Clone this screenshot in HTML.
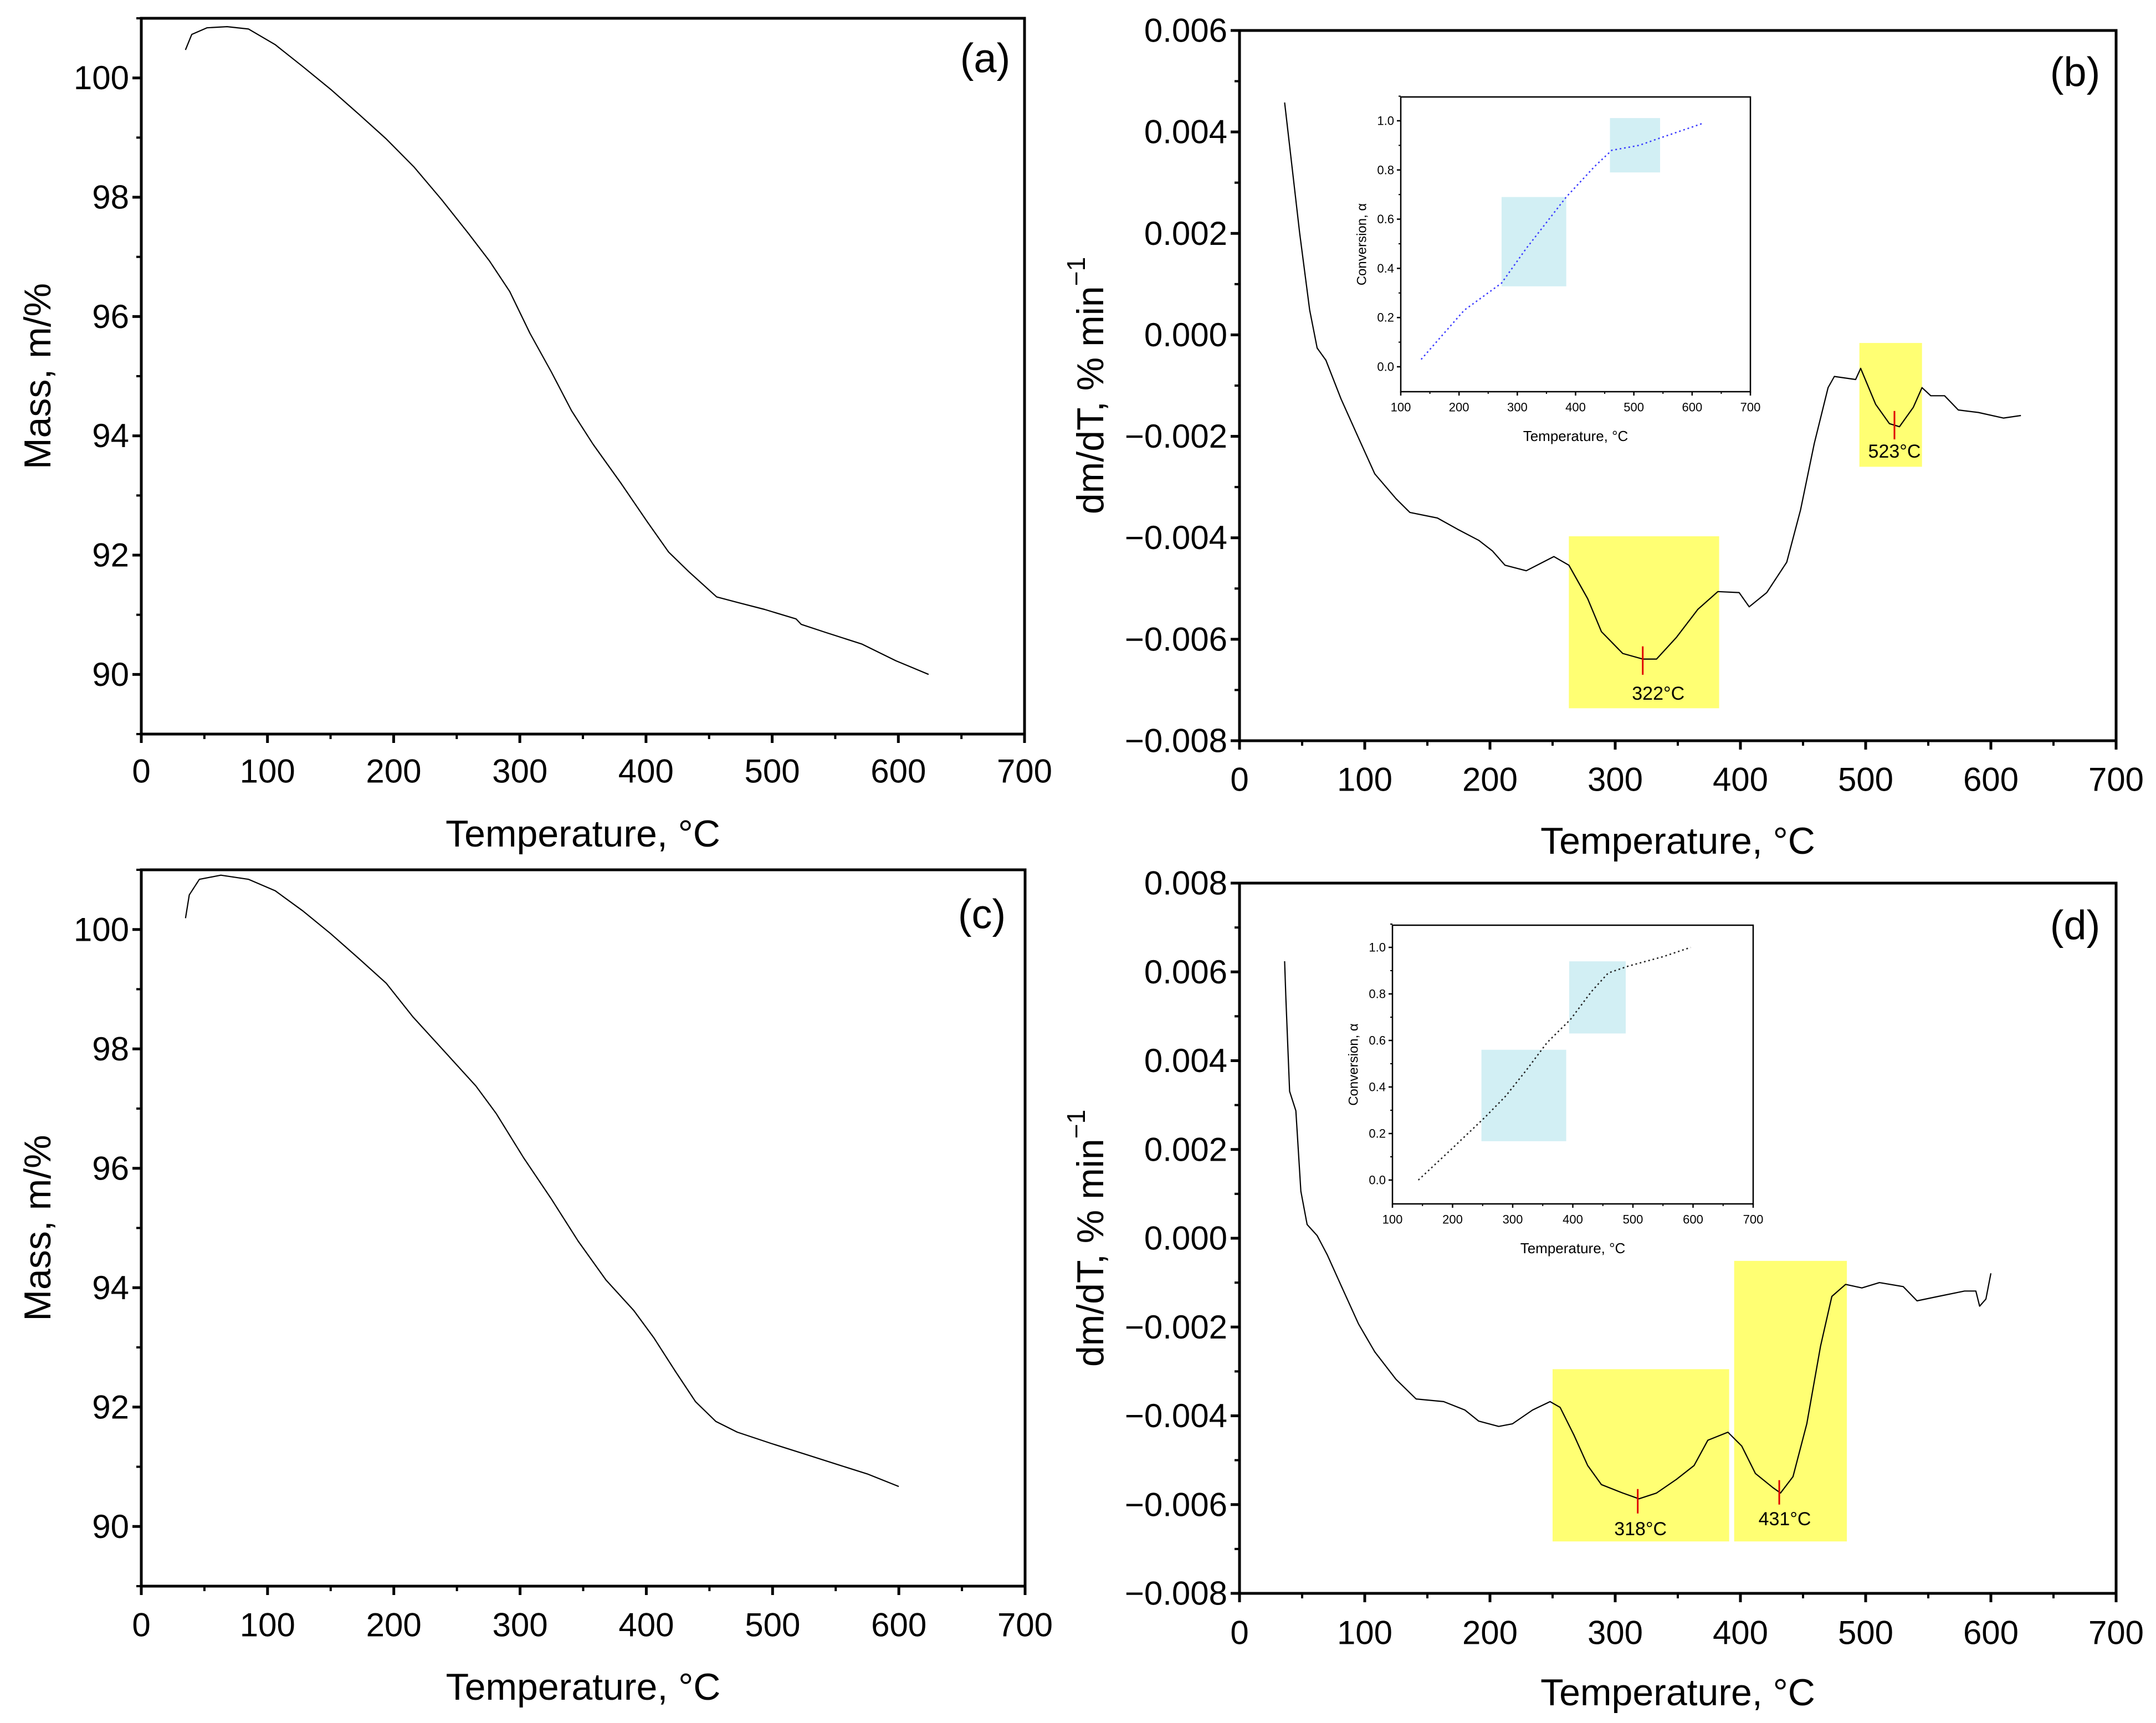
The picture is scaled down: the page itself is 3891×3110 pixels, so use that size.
<!DOCTYPE html>
<html><head><meta charset="utf-8"><style>
html,body{margin:0;padding:0;background:#fff;}
svg{display:block;font-family:"Liberation Sans",Arial,sans-serif;}
</style></head><body>
<svg id="fig" xmlns="http://www.w3.org/2000/svg" width="3891" height="3110" viewBox="0 0 3891 3110"></svg>
<script>
// ---------- DATA ----------
const tempA = [35,40,52,68,85,106,128,150,172,194,216,238,259,276,292,308,325,341,358,380,401,418,434,456,472,494,519,523,543,571,598,624];
const massA = [100.47,100.73,100.84,100.86,100.82,100.56,100.19,99.81,99.40,98.98,98.51,97.96,97.40,96.93,96.42,95.72,95.07,94.42,93.86,93.21,92.56,92.05,91.72,91.30,91.21,91.09,90.93,90.84,90.70,90.51,90.23,90.00];
const tempC = [35,38,46,63,85,106,128,150,172,194,215,237,265,281,303,325,346,368,390,406,423,439,455,472,499,526,554,575,600];
const massC = [100.19,100.58,100.84,100.91,100.84,100.65,100.31,99.93,99.52,99.10,98.54,98.03,97.38,96.92,96.17,95.48,94.78,94.13,93.62,93.16,92.60,92.09,91.76,91.58,91.39,91.21,91.02,90.88,90.67];
const tempB = [36,48,56,62,69,81,95,108,125,136,158,174,191,202,212,229,251,263,278,289,306,322,333,349,366,382,399,407,421,437,448,459,470,475,492,496,508,519,527,538,545,552,563,574,590,610,624];
const dtgB = [0.00458,0.00201,0.00049,-0.00026,-0.0005,-0.00126,-0.00203,-0.00274,-0.00323,-0.0035,-0.00361,-0.00383,-0.00405,-0.00426,-0.00454,-0.00465,-0.00437,-0.00454,-0.0052,-0.00585,-0.00628,-0.00639,-0.00639,-0.00596,-0.00541,-0.00506,-0.00508,-0.00536,-0.00508,-0.00448,-0.00345,-0.00214,-0.00104,-0.00082,-0.00088,-0.00066,-0.00137,-0.00175,-0.00181,-0.00143,-0.00104,-0.0012,-0.0012,-0.00148,-0.00153,-0.00164,-0.00159];
const tempD = [36,37,40,45,49,54,62,70,81,95,108,125,141,163,180,191,207,218,234,248,256,267,278,289,306,319,333,349,363,374,390,401,412,426,432,442,453,464,473,484,497,511,530,541,558,579,588,591,596,600];
const dtgD = [0.00624,0.00543,0.00331,0.00287,0.00106,0.00031,0.00006,-0.00037,-0.00106,-0.00193,-0.00256,-0.00318,-0.00362,-0.00368,-0.00387,-0.00412,-0.00424,-0.00418,-0.00387,-0.00368,-0.00381,-0.00443,-0.00512,-0.00555,-0.00574,-0.00587,-0.00574,-0.00543,-0.00512,-0.00455,-0.00437,-0.00468,-0.0053,-0.00562,-0.00574,-0.00537,-0.00418,-0.00243,-0.00131,-0.00104,-0.00112,-0.001,-0.00109,-0.00141,-0.00131,-0.00119,-0.00119,-0.00153,-0.00137,-0.00079];
const insetTempB = [135,209,273,315,384,433,462,509,545,619];
const insetAlphaB = [0.03,0.23,0.34,0.48,0.69,0.815,0.88,0.90,0.93,0.99];
const insetTempD = [143,197,254,288,322,357,396,431,459,493,550,596];
const insetAlphaD = [0.0,0.13,0.27,0.36,0.47,0.59,0.69,0.81,0.89,0.92,0.96,1.0];
const massTicks = [90,92,94,96,98,100];
const massMinor = [89,91,93,95,97,99,101];
const tempTicks = [0,100,200,300,400,500,600,700];
const dtgTicksB = [-0.008,-0.006,-0.004,-0.002,0,0.002,0.004,0.006];
const dtgTicksD = [-0.008,-0.006,-0.004,-0.002,0,0.002,0.004,0.006,0.008];
const insetXTicks = [100,200,300,400,500,600,700];
const insetYTicks = [0,0.2,0.4,0.6,0.8,1.0];
const peakBoxesB = [[263,383,-0.00397,-0.00736],[495,545,-0.00016,-0.0026]];
const peakTempsB = [322,523];
const peakValsB = [[-0.00614,-0.0067],[-0.0015,-0.00206]];
const peakBoxesD = [[250,391,-0.00295,-0.00683],[395,485,-0.00051,-0.00683]];
const peakTempsD = [318,431];
const peakValsD = [[-0.00565,-0.0062],[-0.00545,-0.006]];
const convBoxesB = [[273,384,0.69,0.327],[459,545,1.011,0.79]];
const convBoxesD = [[248,389,0.56,0.167],[394,488,0.94,0.63]];

// ---------- HELPERS ----------
const NS="http://www.w3.org/2000/svg";
const svg=document.getElementById('fig');
function el(tag,attrs,parent,text){const e=document.createElementNS(NS,tag);for(const k in attrs)e.setAttribute(k,attrs[k]);if(text!==undefined)e.textContent=text;(parent||svg).appendChild(e);return e;}
function scale(d0,d1,p0,p1){return v=>p0+(v-d0)*(p1-p0)/(d1-d0);}
function fmt(v,dec){let s=v.toFixed(dec);if(s.startsWith('-'))s='\u2212'+s.slice(1);if(parseFloat(v.toFixed(dec))===0)s=(0).toFixed(dec);return s;}

function axesFrame(g,L,R,T,B,sw){
  const r=el('rect',{x:L,y:T,width:R-L,height:B-T,fill:'none',stroke:'#000','stroke-width':sw},g);
  
  
}

function drawMain(cfg){
  const g=el('g',{},svg);
  
  
  const xs=scale(0,700,cfg.L,cfg.R), ys=scale(cfg.ymin,cfg.ymax,cfg.B,cfg.T);
  (cfg.boxes||[]).forEach((b,i)=>{
    const r=el('rect',{x:xs(b[0]),y:ys(b[2]),width:xs(b[1])-xs(b[0]),height:ys(b[3])-ys(b[2]),fill:'#ffff73'},g);
    
    
  });
  axesFrame(g,cfg.L,cfg.R,cfg.T,cfg.B,5);
  tempTicks.forEach(t=>{
    const x=xs(t);
    el('line',{x1:x,y1:cfg.B,x2:x,y2:cfg.B+16,stroke:'#000','stroke-width':5},g);
    const tx=el('text',{x:x,y:cfg.xLabY,'font-size':60,'text-anchor':'middle','dominant-baseline':'central'},g,String(t));
    
    
    if(t<700){const xm=xs(t+50);el('line',{x1:xm,y1:cfg.B,x2:xm,y2:cfg.B+9,stroke:'#000','stroke-width':4},g);}
  });
  cfg.yTicks.forEach(v=>{
    const y=ys(v);
    el('line',{x1:cfg.L-16,y1:y,x2:cfg.L,y2:y,stroke:'#000','stroke-width':5},g);
    const tx=el('text',{x:cfg.L-22,y:y,'font-size':60,'text-anchor':'end','dominant-baseline':'central'},g,cfg.fmt(v));
    
    
  });
  cfg.yMinor.forEach(v=>{const y=ys(v);el('line',{x1:cfg.L-9,y1:y,x2:cfg.L,y2:y,stroke:'#000','stroke-width':4},g);});
  const d=cfg.xd.map((t,i)=>(i?'L':'M')+xs(t).toFixed(1)+','+ys(cfg.yd[i]).toFixed(1)).join(' ');
  const p=el('path',{d:d,fill:'none',stroke:'#000','stroke-width':2.2,'stroke-linejoin':'round'},g);
  
  
  (cfg.peaks||[]).forEach((t,i)=>{
    const m=el('line',{x1:xs(t),y1:ys(cfg.peakVals[i][0]),x2:xs(t),y2:ys(cfg.peakVals[i][1]),stroke:'#e00000','stroke-width':3},g);
    
    
    const lb=el('text',{x:xs(t)+cfg.peakLabDx[i],y:cfg.peakLabY[i],'font-size':34,'text-anchor':'middle','dominant-baseline':'central'},g,t+'°C');
    
    
  });
  const xt=el('text',{x:(cfg.L+cfg.R)/2,y:cfg.xTitY,'font-size':68,'text-anchor':'middle','dominant-baseline':'central'},g,'Temperature, °C');
  
  
  const yt=el('text',{x:0,y:0,'font-size':68,'text-anchor':'middle','dominant-baseline':'central',transform:`translate(${cfg.yTitX},${(cfg.T+cfg.B)/2}) rotate(-90)`},g);
  
  
  if(cfg.dtg){
    el('tspan',{},yt,'dm/dT, % min');
    el('tspan',{dy:-26,'font-size':46},yt,'\u22121');
  } else yt.textContent='Mass, m/%';
  const pl=el('text',{x:cfg.panX,y:cfg.panY,'font-size':74,'text-anchor':'middle','dominant-baseline':'central'},g,cfg.panel);
  
  
}

function drawInset(cfg){
  const g=el('g',{},svg);
  
  
  const xs=scale(100,700,cfg.xl,cfg.xr), ys=scale(0,1,cfg.y0,cfg.y1);
  const L=cfg.L,R=cfg.R,T=cfg.T,B=cfg.B;
  el('rect',{x:L,y:T,width:R-L,height:B-T,fill:'#fff'},g);
  cfg.boxes.forEach(b=>{
    const r=el('rect',{x:xs(b[0]),y:ys(b[2]),width:xs(b[1])-xs(b[0]),height:ys(b[3])-ys(b[2]),fill:'#d2eff4'},g);
    
    
  });
  axesFrame(g,L,R,T,B,2.5);
  insetXTicks.forEach(t=>{
    const x=xs(t);
    el('line',{x1:x,y1:B,x2:x,y2:B+7,stroke:'#000','stroke-width':2.5},g);
    if(t<700){el('line',{x1:xs(t+50),y1:B,x2:xs(t+50),y2:B+4,stroke:'#000','stroke-width':2},g);}
    const tx=el('text',{x:x,y:B+28,'font-size':22,'text-anchor':'middle','dominant-baseline':'central'},g,String(t));
    
    
  });
  insetYTicks.forEach(v=>{
    const y=ys(v);
    el('line',{x1:L-7,y1:y,x2:L,y2:y,stroke:'#000','stroke-width':2.5},g);
    el('line',{x1:L-4,y1:ys(v+0.1),x2:L,y2:ys(v+0.1),stroke:'#000','stroke-width':2},g);
    const tx=el('text',{x:L-12,y:y,'font-size':22,'text-anchor':'end','dominant-baseline':'central'},g,v.toFixed(1));
    
    
  });
  const d=cfg.xd.map((t,i)=>(i?'L':'M')+xs(t).toFixed(1)+','+ys(cfg.yd[i]).toFixed(1)).join(' ');
  const p=el('path',{d:d,fill:'none',stroke:cfg.color,'stroke-width':2.5,'stroke-dasharray':'3,5'},g);
  
  
  const xt=el('text',{x:(L+R)/2,y:B+80,'font-size':26,'text-anchor':'middle','dominant-baseline':'central'},g,'Temperature, °C');
  
  
  const yt=el('text',{x:0,y:0,'font-size':24,'text-anchor':'middle','dominant-baseline':'central',transform:`translate(${L-70},${(T+B)/2}) rotate(-90)`},g,'Conversion, α');
  
  
}

// ---------- PANELS ----------
drawMain({name:'panel-a-tga',L:255,R:1849,T:33,B:1325,ymin:89,ymax:101,yTicks:massTicks,yMinor:massMinor,fmt:v=>String(v),
  xd:tempA,yd:massA,xLabY:1392,xTitY:1505,yTitX:68,panel:'(a)',panX:1778,panY:105});
drawMain({name:'panel-b-dtg',L:2237,R:3819,T:55,B:1337,ymin:-0.008,ymax:0.006,yTicks:dtgTicksB,yMinor:[-0.007,-0.005,-0.003,-0.001,0.001,0.003,0.005],fmt:v=>fmt(v,3),
  xd:tempB,yd:dtgB,xLabY:1407,xTitY:1518,yTitX:1968,panel:'(b)',panX:3745,panY:130,dtg:true,
  boxes:peakBoxesB,peaks:peakTempsB,peakVals:peakValsB,peakLabDx:[28,0],peakLabY:[1252,815]});
drawMain({name:'panel-c-tga',L:255,R:1850,T:1570,B:2863,ymin:89,ymax:101,yTicks:massTicks,yMinor:massMinor,fmt:v=>String(v),
  xd:tempC,yd:massC,xLabY:2933,xTitY:3045,yTitX:68,panel:'(c)',panX:1772,panY:1650});
drawMain({name:'panel-d-dtg',L:2237,R:3819,T:1594,B:2876,ymin:-0.008,ymax:0.008,yTicks:dtgTicksD,yMinor:[-0.007,-0.005,-0.003,-0.001,0.001,0.003,0.005,0.007],fmt:v=>fmt(v,3),
  xd:tempD,yd:dtgD,xLabY:2947,xTitY:3055,yTitX:1968,panel:'(d)',panX:3745,panY:1670,dtg:true,
  boxes:peakBoxesD,peaks:peakTempsD,peakVals:peakValsD,peakLabDx:[5,10],peakLabY:[2760,2742]});
drawInset({name:'inset-b-conversion',L:2528,R:3159,T:175,B:707,xl:2528,xr:3159,y0:662,y1:218,
  xd:insetTempB,yd:insetAlphaB,boxes:convBoxesB,color:'#3a3aff'});
drawInset({name:'inset-d-conversion',L:2513,R:3164,T:1670,B:2173,xl:2513,xr:3164,y0:2130,y1:1710,
  xd:insetTempD,yd:insetAlphaD,boxes:convBoxesD,color:'#222'});
</script>
</body></html>
